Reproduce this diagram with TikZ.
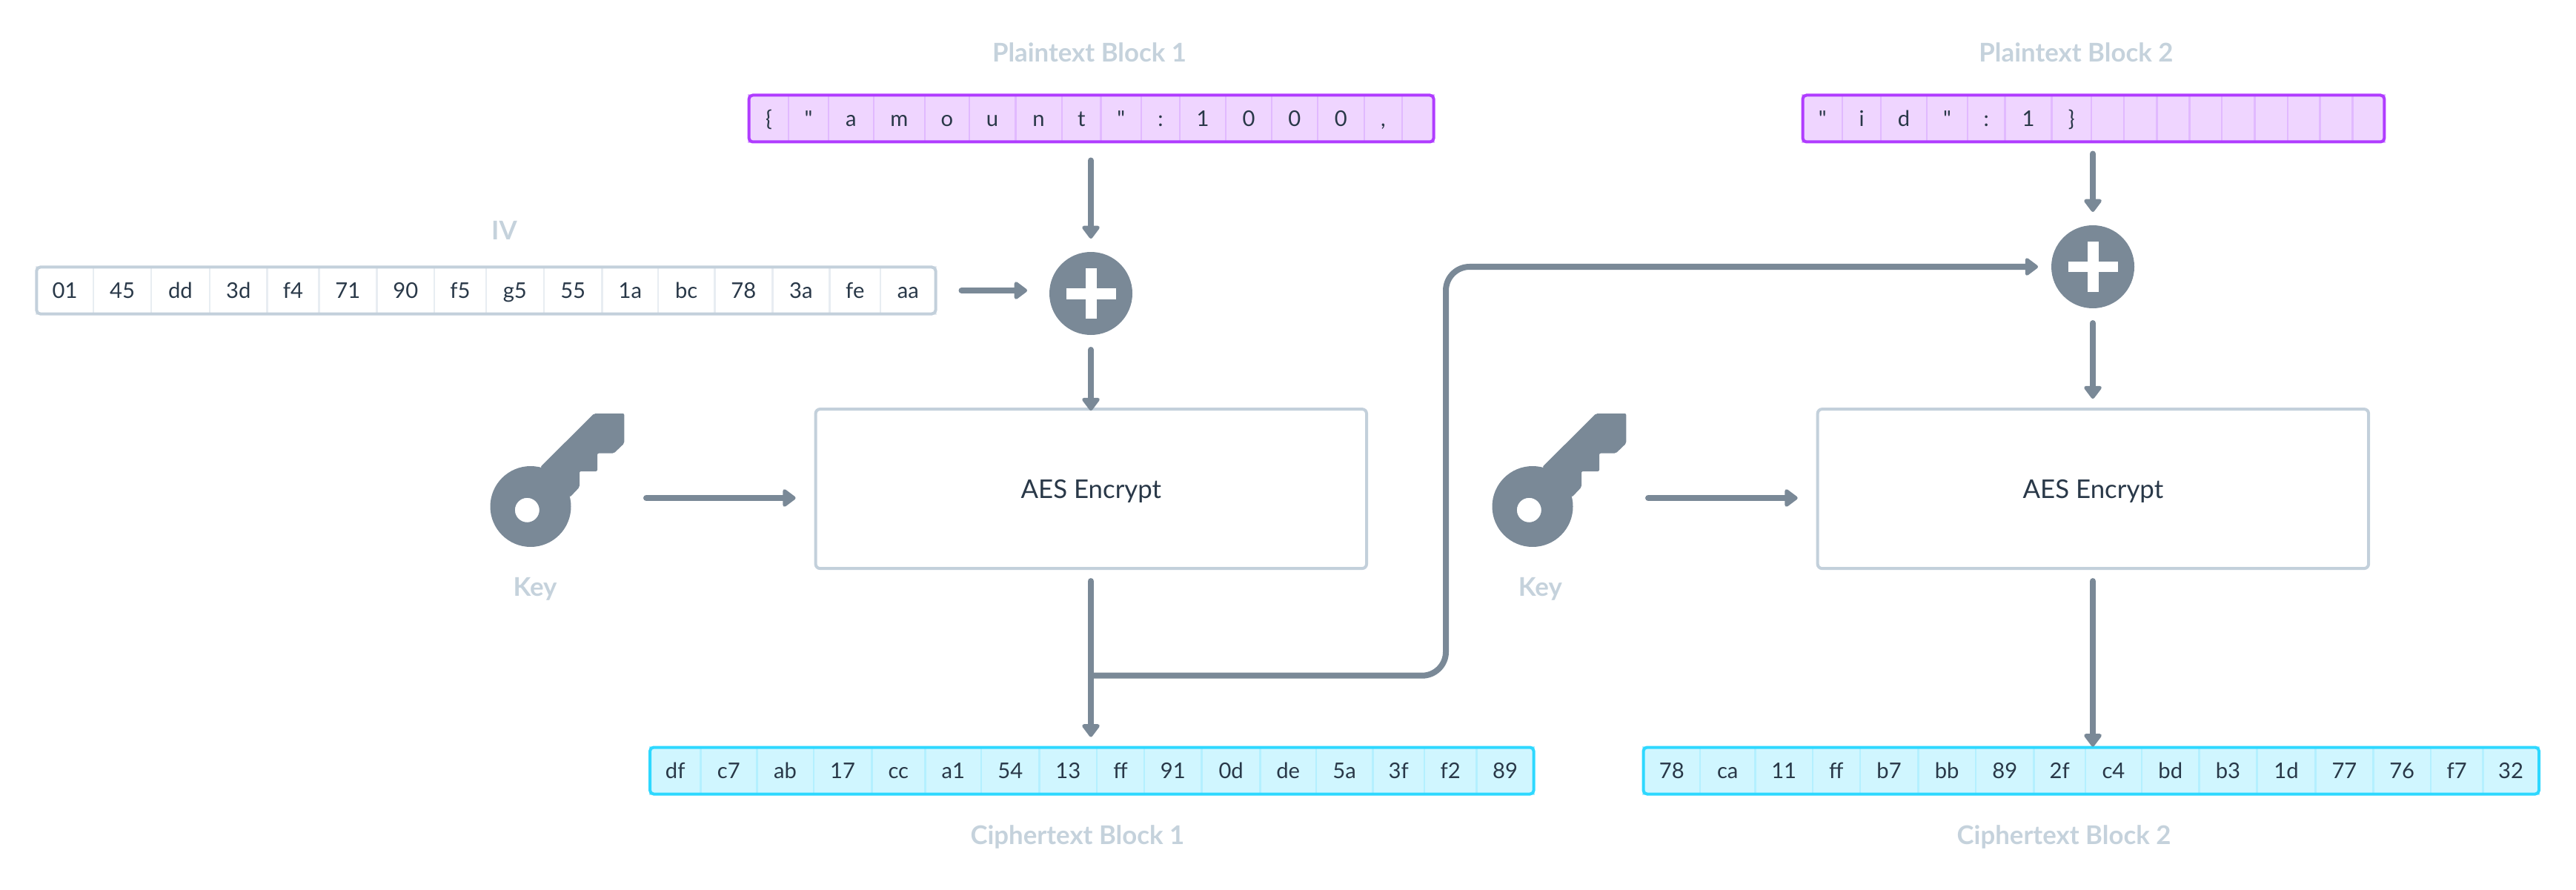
\documentclass[tikz,border=0pt]{standalone}
\usepackage{fontspec}
\setmainfont{Lato}[Ligatures=TeXOff]
\usepackage{xcolor}
\usetikzlibrary{arrows.meta, positioning, calc}
\definecolor{cArrow}{RGB}{122,137,151}
\definecolor{cLabel}{RGB}{197,210,220}
\definecolor{cInk}{RGB}{41,56,72}
\definecolor{cEdge}{RGB}{195,208,219}
\definecolor{cEdgeSoft}{RGB}{232,237,242}
\definecolor{cPurple}{RGB}{176,60,255}
\definecolor{cPurpleFill}{RGB}{239,213,255}
\definecolor{cPurpleSoft}{RGB}{225,185,255}
\definecolor{cCyan}{RGB}{46,216,255}
\definecolor{cCyanFill}{RGB}{208,246,255}
\definecolor{cCyanSoft}{RGB}{180,240,255}
\tikzset{
	bytecell/.style={rectangle, minimum height=0.63cm, inner sep=0pt, outer sep=0pt, line width=0.025cm, text centered, text height=0.21cm, text depth=0pt, text=cInk, font=\fontsize{8.3}{10}\selectfont},
	ivcell/.style={bytecell, draw=cEdgeSoft, fill=white},
	plaincell/.style={bytecell, draw=cPurpleSoft, fill=cPurpleFill},
	ciphercell/.style={bytecell, draw=cCyanSoft, fill=cCyanFill},
	blockframe/.style={rectangle, rounded corners=0.05cm, minimum height=0.63cm, inner sep=0pt, outer sep=0pt, line width=0.04cm},
	aesbox/.style={rectangle, rounded corners=0.06cm, draw=cEdge, line width=0.04cm, minimum width=7.434cm, minimum height=2.15cm, inner sep=0pt, outer sep=0pt, text=cInk, text height=0.25cm, text depth=0pt, font=\fontsize{9.9}{12}\selectfont},
	xorsign/.style={circle, fill=cArrow, minimum size=1.12cm, inner sep=0pt, outer sep=0pt, path picture={
		\draw[white, line width=0.15cm] (path picture bounding box.center) +(-0.335,0) -- +(0.335,0);
		\draw[white, line width=0.15cm] (path picture bounding box.center) +(0,-0.335) -- +(0,0.335);
	}},
	blocklabel/.style={anchor=base, text=cLabel, inner sep=0pt, font=\fontsize{9.9}{12}\selectfont\bfseries},
	flowarrow/.style={-{Triangle[length=1.9mm, width=2.7mm, round]}, draw=cArrow, line width=0.08cm, line cap=round},
	keyicon/.pic={
		\fill[cArrow, even odd rule] (0,0) circle (0.545) (-0.047,-0.048) circle (0.165);
		\fill[cArrow, rounded corners=0.02cm] (0.133,0.535) -- (0.857,1.255) -- (1.263,1.255) -- (1.263,0.852) -- (1.123,0.718) -- (0.90,0.718) -- (0.90,0.475) -- (0.66,0.475) -- (0.66,0.262) -- (0.533,0.128) -- cycle;
	},
}
\newcommand{\bytecells}[4]{
	\foreach \l/\r/\t [count=\i] in {#4} {
		\pgfmathsetmacro{\cx}{(\l+\r)/2}
		\pgfmathsetmacro{\cw}{\r-\l}
		\node[#2, minimum width=\cw cm] (#1c\i) at (\cx,#3) {\t};
	}
}

\begin{document}
\begin{tikzpicture}
	\useasboundingbox (0,0) rectangle (34.76,12);
	% byte rows
	\bytecells{iv}{ivcell}{8.08}{0.493/1.26/01, 1.26/2.04/45, 2.04/2.828/dd, 2.828/3.607/3d, 3.607/4.303/f4, 4.303/5.083/71, 5.083/5.862/90, 5.862/6.559/f5, 6.559/7.338/g5, 7.338/8.126/55, 8.126/8.88/1a, 8.88/9.643/bc, 9.643/10.423/78, 10.423/11.194/3a, 11.194/11.882/fe, 11.882/12.625/aa}
	\bytecells{pa}{plaincell}{10.40}{10.107/10.642/\{, 10.642/11.178/", 11.178/11.79/a, 11.79/12.479/m, 12.479/13.078/o, 13.078/13.703/u, 13.703/14.328/n, 14.328/14.857/t, 14.857/15.40/", 15.40/15.922/:, 15.922/16.541/1, 16.541/17.16/0, 17.16/17.778/0, 17.778/18.41/0, {18.41/18.92/,}, 18.92/19.346/{}}
	\bytecells{pb}{plaincell}{10.40}{24.325/24.862/", 24.862/25.379/i, 25.379/25.999/d, 25.999/26.55/", 26.55/27.055/:, 27.055/27.686/1, 27.686/28.22/\}, 28.22/28.662/{}, 28.662/29.104/{}, 29.104/29.546/{}, 29.546/29.982/{}, 29.982/30.425/{}, 30.425/30.868/{}, 30.868/31.303/{}, 31.303/31.745/{}, 31.745/32.173/{}}
	\bytecells{ca}{ciphercell}{1.60}{8.77/9.454/df, 9.454/10.213/c7, 10.213/10.98/ab, 10.98/11.763/17, 11.763/12.483/cc, 12.483/13.242/a1, 13.242/14.025/54, 14.025/14.8/13, 14.8/15.44/ff, 15.44/16.216/91, 16.216/17.007/0d, 17.007/17.758/de, 17.758/18.525/5a, 18.525/19.22/3f, 19.22/19.925/f2, 19.925/20.695/89}
	\bytecells{cb}{ciphercell}{1.60}{22.175/22.94/78, 22.94/23.684/ca, 23.684/24.46/11, 24.46/25.098/ff, 25.098/25.883/b7, 25.883/26.66/bb, 26.66/27.445/89, 27.445/28.139/2f, 28.139/28.899/c4, 28.899/29.676/bd, 29.676/30.453/b3, 30.453/31.246/1d, 31.246/32.023/77, 32.023/32.8/76, 32.8/33.502/f7, 33.502/34.26/32}
	\node[blockframe, draw=cEdge, minimum width=12.132cm] (ivA) at (6.559,8.08) {};
	\node[blockframe, draw=cPurple, minimum width=9.239cm] (plainA) at (14.726,10.40) {};
	\node[blockframe, draw=cPurple, minimum width=7.848cm] (plainB) at (28.249,10.40) {};
	\node[blockframe, draw=cCyan, minimum width=11.925cm] (cipherA) at (14.733,1.60) {};
	\node[blockframe, draw=cCyan, minimum width=12.085cm] (cipherB) at (28.2175,1.60) {};
	% labels
	\node[blocklabel] (labelPlainA) at (14.70,11.167) {Plaintext Block 1};
	\node[blocklabel] (labelPlainB) at (28.014,11.167) {Plaintext Block 2};
	\node[blocklabel] (labelIv) at (6.804,8.763) {IV};
	\node[blocklabel] (labelKeyA) at (7.22,3.96) {Key};
	\node[blocklabel] (labelKeyB) at (20.783,3.96) {Key};
	\node[blocklabel] (labelCipherA) at (14.539,0.607) {Ciphertext Block 1};
	\node[blocklabel] (labelCipherB) at (27.85,0.607) {Ciphertext Block 2};
	% cipher stages
	\node[xorsign] (xorA) at (14.72,8.04) {};
	\node[xorsign] (xorB) at (28.24,8.40) {};
	\node[aesbox] (aesA) at (14.723,5.404) {AES Encrypt};
	\node[aesbox] (aesB) at (28.2435,5.404) {AES Encrypt};
	\coordinate (keyA) at (7.16,5.165);
	\coordinate (keyB) at (20.68,5.165);
	\pic at (keyA) {keyicon};
	\pic at (keyB) {keyicon};
	\coordinate (keyOutA) at (8.72,5.28);
	\coordinate (keyOutB) at (22.24,5.28);
	\coordinate (teeA) at (14.72,2.883);
	\coordinate (riseA) at (19.51,2.883);
	% arrows
	\draw[flowarrow, shorten <=0.25cm, shorten >=0.18cm] (xorA |- plainA.south) -- (xorA.north);
	\draw[flowarrow, shorten <=0.35cm, shorten >=0.30cm] (ivA.east) -- (ivA.east -| xorA.west);
	\draw[flowarrow, shorten <=0.20cm, shorten >=-0.02cm] (xorA.south) -- (xorA |- aesA.north);
	\draw[flowarrow, shorten >=0.27cm] (keyOutA) -- (keyOutA -| aesA.west);
	\draw[flowarrow, shorten <=0.17cm, shorten >=0.14cm] (xorA |- aesA.south) -- (xorA |- cipherA.north);
	\draw[flowarrow, rounded corners=0.32cm, shorten >=0.18cm] (teeA) -- (riseA) -- (riseA |- xorB.west) -- (xorB.west);
	\draw[flowarrow, shorten <=0.16cm, shorten >=0.18cm] (xorB |- plainB.south) -- (xorB.north);
	\draw[flowarrow, shorten <=0.20cm, shorten >=0.14cm] (xorB.south) -- (xorB |- aesB.north);
	\draw[flowarrow, shorten >=0.27cm] (keyOutB) -- (keyOutB -| aesB.west);
	\draw[flowarrow, shorten <=0.17cm, shorten >=0.01cm] (xorB |- aesB.south) -- (xorB |- cipherB.north);
\end{tikzpicture}
\end{document}
